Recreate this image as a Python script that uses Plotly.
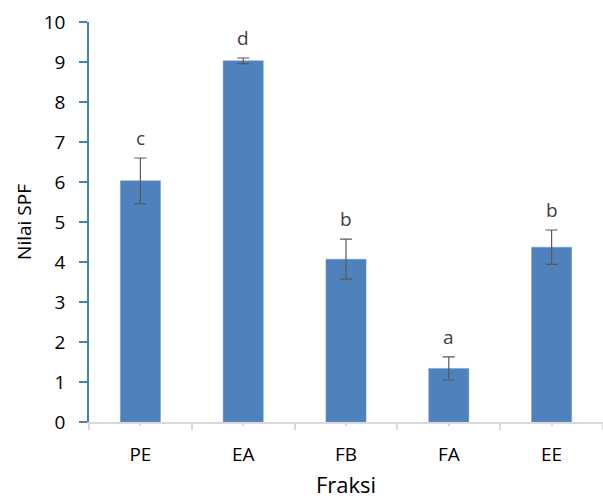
import plotly.graph_objects as go

categories = ["PE", "EA", "FB", "FA", "EE"]
spf_values = [6.03, 9.03, 4.07, 1.34, 4.37]
spf_errors = [0.57, 0.07, 0.50, 0.29, 0.43]
letters = ["c", "d", "b", "a", "b"]
y_ticks = list(range(0, 11))

bar_color = "#4f81bd"
axis_blue = "#4a7ebb"
grey_line = "#d9d9d9"
font_family = "Open Sans, Liberation Sans, sans-serif"

fig = go.Figure()
fig.add_trace(go.Bar(
    x=categories, y=spf_values, width=0.39,
    marker=dict(color=bar_color, line=dict(color="#6e97cc", width=0.5)),
    error_y=dict(type="data", array=spf_errors, visible=True,
                 color="#595959", thickness=1.2, width=6),
    showlegend=False,
))
# invisible trace on second x axis to draw centre ticks
fig.add_trace(go.Scatter(x=categories, y=spf_values, xaxis="x2", mode="markers",
                         marker=dict(opacity=0), showlegend=False, hoverinfo="skip"))

for c, v, e, t in zip(categories, spf_values, spf_errors, letters):
    fig.add_annotation(x=c, y=v + e, text=t, showarrow=False, yanchor="bottom",
                       yshift=5, font=dict(family=font_family, size=19, color="#404040"))

fig.update_layout(
    width=603, height=499,
    margin=dict(l=89, r=0, t=22, b=77, autoexpand=False),
    paper_bgcolor="white", plot_bgcolor="white",
    font=dict(family=font_family, size=18, color="#000000"),
    xaxis=dict(
        type="category", showline=True, linecolor=grey_line, linewidth=1.5,
        ticks="outside", tickson="boundaries", ticklen=6, tickcolor=grey_line,
        tickwidth=1.5, showgrid=False, zeroline=False, automargin=False,
        tickfont=dict(size=19, family=font_family), ticklabelstandoff=14,
        title=dict(text="Fraksi", font=dict(size=22, family=font_family), standoff=17),
        range=[-0.5, 4.5],
    ),
    xaxis2=dict(
        type="category", overlaying="x", anchor="y", side="bottom",
        showline=False, ticks="outside", ticklen=3, tickcolor=grey_line, tickwidth=1.5,
        showticklabels=False, showgrid=False, zeroline=False, range=[-0.5, 4.5],
        automargin=False,
    ),
    yaxis=dict(
        range=[0, 10], tickvals=y_ticks, showline=True, linecolor=axis_blue,
        linewidth=1.5, ticks="outside", ticklen=8, tickcolor=axis_blue, tickwidth=1.5,
        showgrid=False, zeroline=False, tickfont=dict(size=19, family=font_family),
        ticklabelstandoff=10, automargin=False,
        title=dict(text="Nilai SPF", font=dict(size=19, family=font_family), standoff=7),
    ),
)

fig.write_html("out.html", config={"displayModeBar": False})

# remove the default page margin so the figure fills the window exactly
with open("out.html", "r", encoding="utf-8") as f:
    html = f.read()
html = html.replace("<head>", "<head><style>html,body{margin:0;padding:0;overflow:hidden;}</style>", 1)
with open("out.html", "w", encoding="utf-8") as f:
    f.write(html)
